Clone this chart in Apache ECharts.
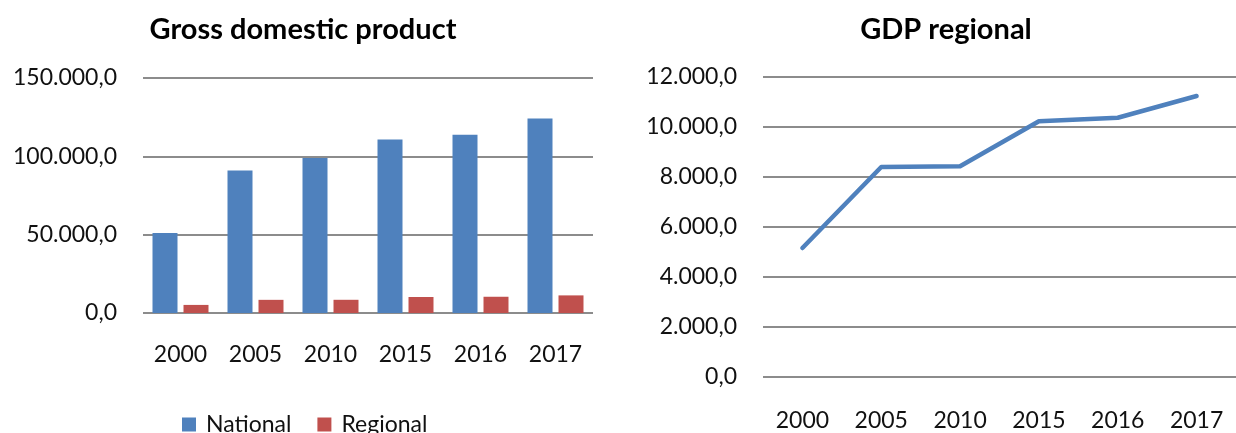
<!DOCTYPE html>
<html>
<head>
<meta charset="utf-8">
<script src="https://cdn.jsdelivr.net/npm/echarts@6/dist/echarts.min.js"></script>
<style>
  html, body { margin: 0; padding: 0; background: #fff; }
  #chart { width: 1236px; height: 433px; }
</style>
</head>
<body>
<div id="chart"></div>
<script>
// years on both charts
const years = ['2000', '2005', '2010', '2015', '2016', '2017'];
// GDP values
const nationalGdp = [51100, 90900, 98900, 110800, 113800, 124100];
const regionalGdp = [5160, 8400, 8430, 10230, 10370, 11240];

const FONT = 'Lato, "Open Sans", sans-serif';
const GRID_COLOR = '#8c8c8c';

// 150000 -> "150.000,0"
function fmt(v) {
  const parts = Number(v).toFixed(1).split('.');
  return parts[0].replace(/\B(?=(\d{3})+(?!\d))/g, '.') + ',' + parts[1];
}

const chart = echarts.init(document.getElementById('chart'));

const option = {
  animation: false,
  textStyle: { fontFamily: FONT, color: '#111' },
  title: [
    {
      text: 'Gross domestic product',
      left: 298, top: 10, textAlign: 'center',
      textStyle: { fontFamily: FONT, fontSize: 29, fontWeight: 'bold', color: '#000' }
    },
    {
      text: 'GDP regional',
      left: 941, top: 10, textAlign: 'center',
      textStyle: { fontFamily: FONT, fontSize: 29, fontWeight: 'bold', color: '#000' }
    }
  ],
  legend: {
    data: ['National', 'Regional'],
    left: 177, top: 408,
    itemWidth: 14, itemHeight: 14, itemGap: 26,
    icon: 'rect',
    textStyle: { fontFamily: FONT, fontSize: 23, color: '#111', padding: [0, 0, 0, 5] }
  },
  grid: [
    { left: 143, top: 78, width: 450, height: 235 },
    { left: 763, top: 77, width: 477, height: 300 }
  ],
  xAxis: [
    {
      gridIndex: 0, type: 'category', data: years,
      axisLine: { show: false }, axisTick: { show: false },
      axisLabel: { fontFamily: FONT, fontSize: 23, color: '#111', margin: 30 }
    },
    {
      gridIndex: 1, type: 'category', data: years,
      axisLine: { show: false }, axisTick: { show: false },
      axisLabel: { fontFamily: FONT, fontSize: 23, color: '#111', margin: 32 }
    }
  ],
  yAxis: [
    {
      gridIndex: 0, type: 'value', min: 0, max: 150000, interval: 50000,
      axisLine: { show: false }, axisTick: { show: false },
      axisLabel: { fontFamily: FONT, fontSize: 23, color: '#111', margin: 26, formatter: fmt },
      splitLine: { lineStyle: { color: GRID_COLOR, width: 2 } }
    },
    {
      gridIndex: 1, type: 'value', min: 0, max: 12000, interval: 2000,
      axisLine: { show: false }, axisTick: { show: false },
      axisLabel: { fontFamily: FONT, fontSize: 23, color: '#111', margin: 26, formatter: fmt },
      splitLine: { lineStyle: { color: GRID_COLOR, width: 2 } }
    }
  ],
  series: [
    {
      name: 'National', type: 'bar', xAxisIndex: 0, yAxisIndex: 0,
      data: nationalGdp, barWidth: 25, barGap: '24%',
      itemStyle: { color: '#4f81bd' }
    },
    {
      name: 'Regional', type: 'bar', xAxisIndex: 0, yAxisIndex: 0,
      data: regionalGdp, barWidth: 25, barGap: '24%',
      itemStyle: { color: '#c0504d' }
    },
    {
      name: 'GDP regional', type: 'line', xAxisIndex: 1, yAxisIndex: 1,
      data: regionalGdp, symbol: 'none',
      lineStyle: { color: '#4f81bd', width: 4.5, cap: 'round', join: 'round' }
    }
  ]
};

chart.setOption(option);
</script>
</body>
</html>
